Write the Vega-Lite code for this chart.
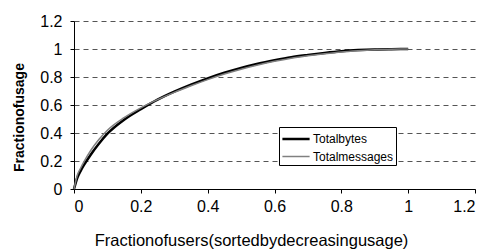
{
  "$schema": "https://vega.github.io/schema/vega-lite/v6.json",
  "width": 401,
  "height": 168,
  "autosize": "none",
  "padding": {"left": 74, "top": 21, "right": 11, "bottom": 62},
  "background": "white",
  "config": {
    "view": {"stroke": null},
    "font": "Liberation Sans",
    "axis": {"labelFont": "Liberation Sans", "titleFont": "Liberation Sans", "labelColor": "black", "titleColor": "black", "domainColor": "black", "tickColor": "black", "tickSize": 4},
    "legend": {"orient": "none", "legendX": 205, "legendY": 106, "title": null, "symbolType": "M-1.6,0H1.6", "symbolSize": 289, "symbolOffset": 5, "labelOffset": 7, "labelFontSize": 12, "labelFont": "Liberation Sans", "labelColor": "black", "strokeColor": "black", "fillColor": "white", "padding": 2, "rowPadding": 2}
  },
  "data": {"values": [
    {"x": 0, "y": 0, "s": "Totalbytes"},
    {"x": 0.01, "y": 0.08, "s": "Totalbytes"},
    {"x": 0.02, "y": 0.13, "s": "Totalbytes"},
    {"x": 0.03, "y": 0.172, "s": "Totalbytes"},
    {"x": 0.05, "y": 0.245, "s": "Totalbytes"},
    {"x": 0.075, "y": 0.325, "s": "Totalbytes"},
    {"x": 0.1, "y": 0.395, "s": "Totalbytes"},
    {"x": 0.15, "y": 0.495, "s": "Totalbytes"},
    {"x": 0.2, "y": 0.57, "s": "Totalbytes"},
    {"x": 0.25, "y": 0.638, "s": "Totalbytes"},
    {"x": 0.3, "y": 0.695, "s": "Totalbytes"},
    {"x": 0.35, "y": 0.745, "s": "Totalbytes"},
    {"x": 0.4, "y": 0.79, "s": "Totalbytes"},
    {"x": 0.45, "y": 0.83, "s": "Totalbytes"},
    {"x": 0.5, "y": 0.865, "s": "Totalbytes"},
    {"x": 0.55, "y": 0.895, "s": "Totalbytes"},
    {"x": 0.6, "y": 0.92, "s": "Totalbytes"},
    {"x": 0.65, "y": 0.942, "s": "Totalbytes"},
    {"x": 0.7, "y": 0.958, "s": "Totalbytes"},
    {"x": 0.75, "y": 0.972, "s": "Totalbytes"},
    {"x": 0.8, "y": 0.984, "s": "Totalbytes"},
    {"x": 0.85, "y": 0.992, "s": "Totalbytes"},
    {"x": 0.9, "y": 0.997, "s": "Totalbytes"},
    {"x": 0.95, "y": 0.999, "s": "Totalbytes"},
    {"x": 1, "y": 1, "s": "Totalbytes"},
    {"x": 0, "y": 0, "s": "Totalmessages"},
    {"x": 0.01, "y": 0.1, "s": "Totalmessages"},
    {"x": 0.02, "y": 0.15, "s": "Totalmessages"},
    {"x": 0.03, "y": 0.195, "s": "Totalmessages"},
    {"x": 0.05, "y": 0.275, "s": "Totalmessages"},
    {"x": 0.075, "y": 0.355, "s": "Totalmessages"},
    {"x": 0.1, "y": 0.42, "s": "Totalmessages"},
    {"x": 0.15, "y": 0.51, "s": "Totalmessages"},
    {"x": 0.2, "y": 0.58, "s": "Totalmessages"},
    {"x": 0.25, "y": 0.638, "s": "Totalmessages"},
    {"x": 0.3, "y": 0.69, "s": "Totalmessages"},
    {"x": 0.35, "y": 0.737, "s": "Totalmessages"},
    {"x": 0.4, "y": 0.781, "s": "Totalmessages"},
    {"x": 0.45, "y": 0.821, "s": "Totalmessages"},
    {"x": 0.5, "y": 0.856, "s": "Totalmessages"},
    {"x": 0.55, "y": 0.886, "s": "Totalmessages"},
    {"x": 0.6, "y": 0.912, "s": "Totalmessages"},
    {"x": 0.65, "y": 0.934, "s": "Totalmessages"},
    {"x": 0.7, "y": 0.951, "s": "Totalmessages"},
    {"x": 0.75, "y": 0.966, "s": "Totalmessages"},
    {"x": 0.8, "y": 0.979, "s": "Totalmessages"},
    {"x": 0.85, "y": 0.988, "s": "Totalmessages"},
    {"x": 0.9, "y": 0.995, "s": "Totalmessages"},
    {"x": 0.95, "y": 0.999, "s": "Totalmessages"},
    {"x": 1, "y": 1, "s": "Totalmessages"}
  ]},
  "mark": {"type": "line", "interpolate": "monotone"},
  "encoding": {
    "x": {
      "field": "x", "type": "quantitative",
      "scale": {"domain": [0, 1.2], "nice": false},
      "axis": {"values": [0, 0.2, 0.4, 0.6, 0.8, 1, 1.2], "format": "~g", "grid": false, "labelFontSize": 16, "labelPadding": 5, "title": "Fractionofusers(sortedbydecreasingusage)", "titleFontSize": 16.5, "titleFontWeight": "normal", "titleX": 177, "titleY": 51, "titleBaseline": "middle", "titleAlign": "center"}
    },
    "y": {
      "field": "y", "type": "quantitative",
      "scale": {"domain": [0, 1.2], "nice": false},
      "axis": {"values": [0, 0.2, 0.4, 0.6, 0.8, 1, 1.2], "format": "~g", "grid": true, "gridColor": "#555555", "gridDash": [5, 4], "gridWidth": 1, "labelFontSize": 16, "labelPadding": 8, "title": "Fractionofusage", "titleFontSize": 14, "titleFontWeight": "bold", "titleX": -55, "titleY": 96, "titleBaseline": "middle", "titleAlign": "center", "titleAngle": -90}
    },
    "color": {
      "field": "s", "type": "nominal", "title": null,
      "scale": {"domain": ["Totalbytes", "Totalmessages"], "range": ["black", "#808080"]}
    },
    "strokeWidth": {
      "field": "s", "type": "nominal", "title": null,
      "scale": {"domain": ["Totalbytes", "Totalmessages"], "range": [2.5, 1.5]}
    }
  }
}
